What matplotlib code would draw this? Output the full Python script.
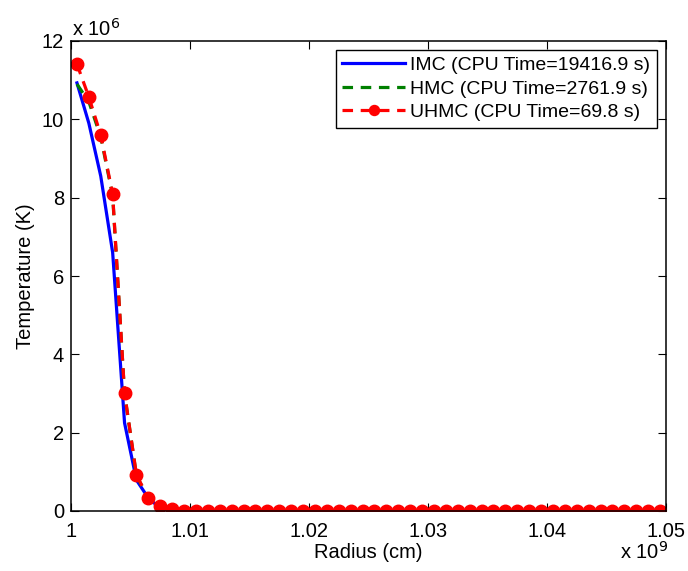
import numpy as np
import matplotlib
matplotlib.use("Agg")
import matplotlib.pyplot as plt

plt.rcParams['font.family'] = ['Liberation Sans', 'DejaVu Sans']

# radius in units of 1e9 cm, temperature in units of 1e6 K
n_cells = 50
radius = [1.0005 + 0.001 * k for k in range(n_cells)]

imc_head = [10.93, 9.9, 8.55, 6.6, 2.25, 0.79, 0.33, 0.07, 0.01]
hmc_head = [10.9, 10.45, 9.55, 8.05, 3.0, 0.9, 0.33, 0.1, 0.03]
uhmc_head = [11.41, 10.57, 9.6, 8.09, 3.01, 0.92, 0.33, 0.12, 0.04]

imc = imc_head + [0.0] * (n_cells - len(imc_head))
hmc = hmc_head + [0.0] * (n_cells - len(hmc_head))
uhmc = uhmc_head + [0.0] * (n_cells - len(uhmc_head))

labels = ["IMC (CPU Time=19416.9 s)",
          "HMC (CPU Time=2761.9 s)",
          "UHMC (CPU Time=69.8 s)"]

xticks = [1.0, 1.01, 1.02, 1.03, 1.04, 1.05]
xticklabels = ["1", "1.01", "1.02", "1.03", "1.04", "1.05"]
yticks = [0, 2, 4, 6, 8, 10, 12]

fig = plt.figure(figsize=(6.88, 5.71), dpi=100)
ax = fig.add_axes([71 / 688, 60 / 571, 595 / 688, 470 / 571])

dash = (0, (3.3, 2.4))
ax.plot(radius, imc, color='blue', lw=2.3, label=labels[0])
ax.plot(radius, hmc, color='green', lw=2.3, ls=dash, label=labels[1])
ax.plot(radius, uhmc, color='red', lw=2.3, ls=dash, marker='o',
        markersize=9, label=labels[2])

ax.set_xlim(1.0, 1.05)
ax.set_ylim(0, 12)
ax.set_xticks(xticks)
ax.set_xticklabels(xticklabels)
ax.set_yticks(yticks)
ax.tick_params(direction='in', top=True, right=True, length=6, width=0.8,
               labelsize=14.5)
ax.tick_params(axis='x', pad=8)
ax.tick_params(axis='y', pad=5)
for s in ax.spines.values():
    s.set_linewidth(1.1)

ax.set_xlabel("Radius (cm)", fontsize=14.5, labelpad=1)
ax.set_ylabel("Temperature (K)", fontsize=14.5, labelpad=5)

fig.text(72 / 688, 1 - 29 / 571, r"x 10$^{6}$", fontsize=14.5, ha='left', va='center')
fig.text(668 / 688, 1 - 552 / 571, r"x 10$^{9}$", fontsize=14.5, ha='right', va='center')

leg = ax.legend(loc='upper right', fontsize=14, handlelength=3.2,
                handletextpad=0.3, labelspacing=0.3, borderpad=0.35,
                borderaxespad=0.45, fancybox=False, framealpha=1,
                edgecolor='black', markerscale=0.8)
leg.get_frame().set_linewidth(1.0)

fig.savefig("out.png", dpi=100)
